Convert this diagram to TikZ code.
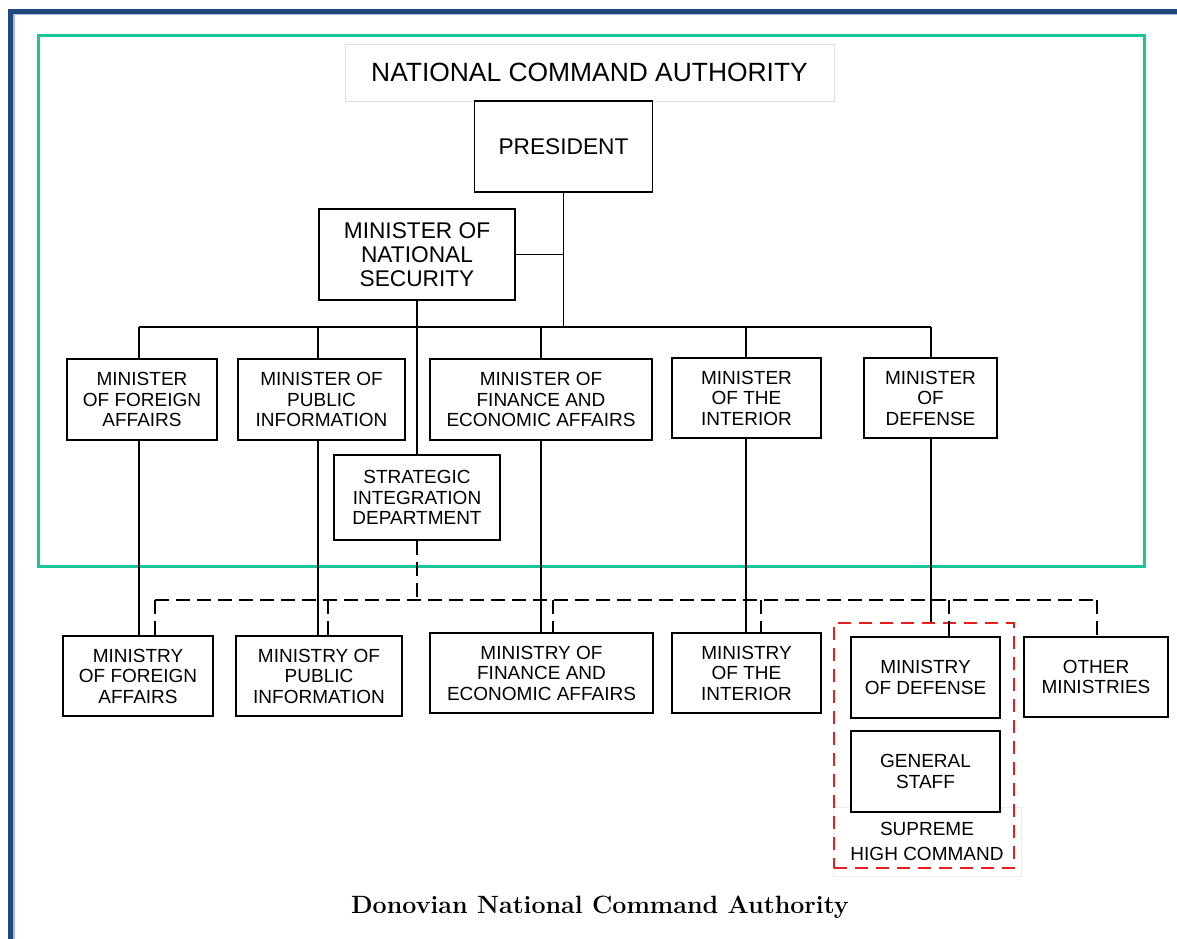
\documentclass[tikz,border=0pt]{standalone}
\usepackage{fontspec}
\newfontfamily\arial{Liberation Sans}
\definecolor{frameblue}{RGB}{31,73,125}
\definecolor{framelight}{RGB}{165,185,212}
\definecolor{ncagreen}{RGB}{24,199,152}
\definecolor{shcred}{RGB}{230,30,30}
\begin{document}
\begin{tikzpicture}[x=1pt,y=-1pt,
  box/.style={draw=black, line width=1.6pt, rectangle, inner sep=0pt, align=center,
    font=\arial\fontsize{19}{20.5}\selectfont},
  bigbox/.style={box, font=\arial\fontsize{22.7}{24}\selectfont},
  conn/.style={draw=black, line width=1.4pt},
  dconn/.style={draw=black, line width=1.4pt, dash pattern=on 14pt off 7pt},
]
\useasboundingbox (0,0) rectangle (1177,938);
% outer frame
\draw[framelight, line width=2pt] (13.7,940) -- (13.7,14.3) -- (1180,14.3);
\draw[frameblue, line width=4.7pt] (10.4,940) -- (10.4,11.2) -- (1180,11.2);
% green authority box
\draw[ncagreen, line width=3pt] (38,35) rectangle (1144,566);
% title
\node[draw=black!13, line width=0.8pt, minimum width=489pt, minimum height=57pt, inner sep=0pt,
  font=\arial\fontsize{26.4}{30}\selectfont] (title) at (589.5,72.5) {NATIONAL COMMAND AUTHORITY};
% top boxes
\node[bigbox, minimum width=178pt, minimum height=91pt] (pres) at (563.5,146.5) {PRESIDENT};
\node[bigbox, minimum width=196pt, minimum height=91pt] (mns) at (417,254.5) {MINISTER OF\\NATIONAL\\SECURITY};
% ministers
\node[box, minimum width=150pt, minimum height=81pt] (mfa) at (142,399.5) {MINISTER\\OF FOREIGN\\AFFAIRS};
\node[box, minimum width=167pt, minimum height=81pt] (mpi) at (321.5,399.5) {MINISTER OF\\PUBLIC\\INFORMATION};
\node[box, minimum width=222pt, minimum height=81pt] (mfin) at (541,399.5) {MINISTER OF\\FINANCE AND\\ECONOMIC AFFAIRS};
\node[box, minimum width=149pt, minimum height=80pt] (mint) at (746.5,398) {MINISTER\\OF THE\\INTERIOR};
\node[box, minimum width=133pt, minimum height=80pt] (mdef) at (930.5,398) {MINISTER\\OF\\DEFENSE};
\node[box, minimum width=166pt, minimum height=85pt] (sid) at (417,497.5) {STRATEGIC\\INTEGRATION\\DEPARTMENT};
% supreme high command label (faint text box, behind)
\node[draw=black!7, line width=0.8pt, minimum width=188pt, minimum height=69pt, inner sep=0pt, align=center,
  font=\arial\fontsize{19}{25}\selectfont] (shclabel) at (927,841.5) {SUPREME\\HIGH COMMAND};
% ministries
\node[box, minimum width=150pt, minimum height=80pt] (yfa) at (138,676) {MINISTRY\\OF FOREIGN\\AFFAIRS};
\node[box, minimum width=166pt, minimum height=80pt] (ypi) at (319,676) {MINISTRY OF\\PUBLIC\\INFORMATION};
\node[box, minimum width=223pt, minimum height=80pt] (yfin) at (541.5,673) {MINISTRY OF\\FINANCE AND\\ECONOMIC AFFAIRS};
\node[box, minimum width=149pt, minimum height=80pt] (yint) at (746.5,673) {MINISTRY\\OF THE\\INTERIOR};
\node[box, fill=white, minimum width=149pt, minimum height=81pt] (ydef) at (925.5,677.5) {MINISTRY\\OF DEFENSE};
\node[box, fill=white, minimum width=149pt, minimum height=81pt] (gs) at (925.5,771.5) {GENERAL\\STAFF};
\node[box, minimum width=144pt, minimum height=80pt] (oth) at (1096,677) {OTHER\\MINISTRIES};
% supreme high command frame
\node[draw=shcred, line width=1.5pt, dash pattern=on 13pt off 8pt, minimum width=180pt, minimum height=245pt,
  inner sep=0pt] (shc) at (924,745.5) {};
% coordinates
\coordinate (busL) at (139,327);
\coordinate (busR) at (931,327);
\coordinate (dbusL) at (155,600);
\coordinate (dbusR) at (1097,600);
\coordinate (k1) at (139,0);
\coordinate (k2) at (318,0);
\coordinate (k3) at (541,0);
\coordinate (k4) at (746,0);
\coordinate (k5) at (931,0);
\coordinate (d1) at (155,0);
\coordinate (d2) at (328,0);
\coordinate (d3) at (553,0);
\coordinate (d4) at (761,0);
\coordinate (d5) at (949,0);
\coordinate (d6) at (1097,0);
% solid connectors
\draw[conn] (pres.south) -- (pres.south |- busL);
\draw[conn] (mns.east) -- (mns.east -| pres.south);
\draw[conn] (busL) -- (busR);
\draw[conn] (mns.south) -- (sid.north -| mns.south);
\draw[conn] (k1 |- busL) -- (k1 |- mfa.north);
\draw[conn] (k2 |- busL) -- (k2 |- mpi.north);
\draw[conn] (k3 |- busL) -- (k3 |- mfin.north);
\draw[conn] (k4 |- busL) -- (k4 |- mint.north);
\draw[conn] (k5 |- busL) -- (k5 |- mdef.north);
\draw[conn] (k1 |- mfa.south) -- (k1 |- yfa.north);
\draw[conn] (k2 |- mpi.south) -- (k2 |- ypi.north);
\draw[conn] (k3 |- mfin.south) -- (k3 |- yfin.north);
\draw[conn] (k4 |- mint.south) -- (k4 |- yint.north);
\draw[conn] (k5 |- mdef.south) -- (k5 |- shc.north);
% dashed connectors
\draw[dconn] (sid.south -| mns.south) -- (mns.south |- dbusL);
\draw[dconn] (dbusL) -- (dbusR);
\draw[dconn] (d1 |- dbusL) -- (d1 |- yfa.north);
\draw[dconn] (d2 |- dbusL) -- (d2 |- ypi.north);
\draw[dconn] (d3 |- dbusL) -- (d3 |- yfin.north);
\draw[dconn] (d4 |- dbusL) -- (d4 |- yint.north);
\draw[dconn] (d5 |- dbusL) -- (d5 |- shc.north);
\draw[conn] (d5 |- shc.north) -- (d5 |- ydef.north);
\draw[dconn] (d6 |- dbusL) -- (d6 |- oth.north);
% caption
\node[font=\bfseries\fontsize{25}{30}\selectfont] (caption) at (600,907) {Donovian National Command Authority};
\end{tikzpicture}
\end{document}
